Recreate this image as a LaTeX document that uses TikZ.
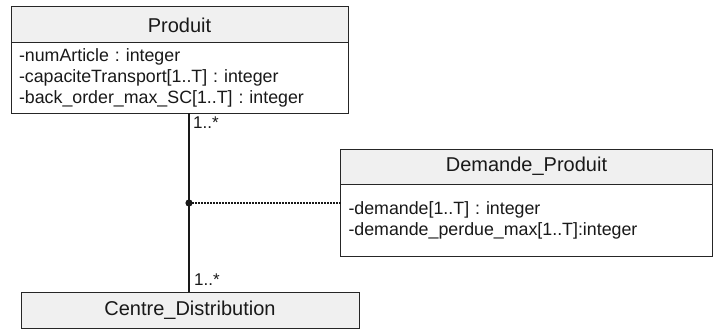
\documentclass[tikz,border=0pt]{standalone}
\usepackage{fontspec}
\setmainfont{Liberation Sans}
\frenchspacing
\begin{document}
\begin{tikzpicture}[x=1pt,y=-1pt,
  box/.style={draw=black!85,line width=1pt,rectangle,inner sep=0pt,outer sep=0pt},
  hdr/.style={box,fill=black!6,font=\fontsize{20}{24}\selectfont,text=black!90},
  attr/.style={box,fill=white,font=\fontsize{17.8}{21}\selectfont,align=left,text=black!90},
  mult/.style={inner sep=0pt,font=\fontsize{17}{20}\selectfont,text=black!90},
  assoc/.style={line width=1.8pt,draw=black!90},
  dotline/.style={line width=1.4pt,draw=black!90,dash pattern=on 1.5pt off 1.5pt}]
\useasboundingbox (0,0) rectangle (714,329);
% Produit
\node[hdr,minimum width=337pt,minimum height=36pt,anchor=north west] (prodH) at (11,7) {Produit};
\node[attr,minimum width=337pt,minimum height=70pt,text width=321pt,anchor=north west] (prodA) at (11,43)
  {-numArticle : integer\\-capaciteTransport[1..T] : integer\\-back\_order\_max\_SC[1..T] : integer};
% Demande_Produit
\node[hdr,minimum width=372pt,minimum height=35pt,anchor=north west] (demH) at (340.5,149) {Demande\_Produit};
\node[attr,minimum width=372pt,minimum height=72pt,text width=356pt,anchor=north west] (demA) at (340.5,184)
  {-demande[1..T] : integer\\-demande\_perdue\_max[1..T]:integer};
% Centre_Distribution
\node[hdr,minimum width=338pt,minimum height=36pt,anchor=north west] (centre) at (21,292) {Centre\_Distribution};
% association
\coordinate (dot) at (189,203);
\draw[assoc] (dot |- prodA.south) -- (dot |- centre.north);
\draw[dotline] (dot) -- (dot -| demA.west);
\fill[black!90] (dot) circle (3.6pt);
\node[mult,anchor=west] (m1) at (193,123) {1..*};
\node[mult,anchor=west] (m2) at (194,280) {1..*};
\end{tikzpicture}
\end{document}
